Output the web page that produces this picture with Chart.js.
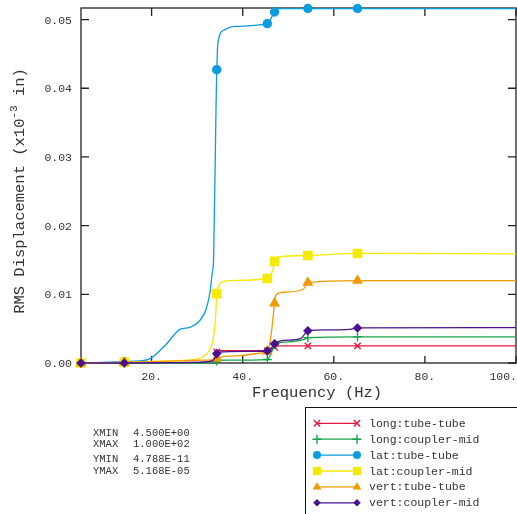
<!DOCTYPE html>
<html>
<head>
<meta charset="utf-8">
<script src="https://cdn.jsdelivr.net/npm/chart.js@4.4.1/dist/chart.umd.min.js"></script>
<style>
  html, body { margin: 0; padding: 0; background: #fff; }
</style>
</head>
<body>
<canvas id="rms" width="517" height="514"></canvas>
<script>
/** Frequencies where the response markers sit (Hz) **/
const markerFreqs = [4.5, 14, 34.3, 45.4, 47, 54.3, 65.2];

/** Axis ticks **/
const xTicks = [20, 40, 60, 80, 100];
const yTicks = [0, 0.01, 0.02, 0.03, 0.04, 0.05];
const xTickLabels = ["20.", "40.", "60.", "80.", "100."];
const yTickLabels = ["0.00", "0.01", "0.02", "0.03", "0.04", "0.05"];

/** Cumulative RMS displacement curves (x10^-3 in) **/
const longTubeFreq = [4.5, 14, 30, 33.3, 34.0, 34.3, 35.0, 45.4, 46.2, 47.0, 48.0, 54.3, 65.2, 100];
const longTubeVals = [0, 0, 0.0001, 0.0003, 0.0010, 0.0016, 0.0018, 0.0018, 0.0020, 0.0023, 0.0025, 0.0025, 0.0025, 0.0025];

const longCoupFreq = [4.5, 14, 30, 33.5, 34.3, 35.0, 45.4, 46.3, 47.0, 48.5, 51.7, 53.8, 54.3, 65.2, 100];
const longCoupVals = [0, 0, 0, 0.0001, 0.0003, 0.0004, 0.0005, 0.0015, 0.0027, 0.0030, 0.0032, 0.0035, 0.0037, 0.0038, 0.0038];

const latTubeFreq = [4.5, 14, 17.4, 19.6, 23.3, 26.2, 28.4, 30.6, 32.0, 32.9, 33.3, 33.6, 34.1, 34.3, 34.6, 36.0, 38.2, 45.4, 47.0, 48.0, 54.3, 65.2, 100];
const latTubeVals = [0, 0.0002, 0.0003, 0.0006, 0.0028, 0.0049, 0.0052, 0.0062, 0.0079, 0.0106, 0.0131, 0.0150, 0.0354, 0.0427, 0.0468, 0.0485, 0.0490, 0.0494, 0.0511, 0.0516, 0.0516, 0.0516, 0.0516];

const latCoupFreq = [4.5, 14, 20, 28, 31.3, 32.7, 33.6, 34.1, 34.3, 34.7, 35.3, 37.1, 45.4, 46.6, 47.0, 48.1, 54.3, 65.2, 100];
const latCoupVals = [0, 0.0001, 0.00025, 0.0004, 0.0009, 0.0019, 0.0038, 0.0072, 0.0101, 0.0111, 0.0117, 0.0120, 0.0123, 0.0135, 0.0148, 0.01545, 0.01566, 0.01595, 0.0159];

const vertTubeFreq = [4.5, 14, 20, 30, 33.5, 34.3, 35.5, 40, 44.5, 45.4, 46.0, 46.4, 47.0, 47.3, 48.8, 53.2, 53.9, 54.3, 65.2, 100];
const vertTubeVals = [0, 0.0001, 0.0002, 0.0004, 0.0005, 0.0007, 0.0009, 0.0011, 0.0015, 0.0017, 0.0030, 0.0050, 0.0087, 0.0099, 0.0103, 0.0107, 0.0113, 0.0117, 0.0120, 0.0120];

const vertCoupFreq = [4.5, 14, 30, 33.3, 34.0, 34.3, 35.0, 40, 45.4, 46.2, 47.0, 48.1, 52.8, 54.3, 56.1, 63.5, 65.2, 100];
const vertCoupVals = [0, 0, 0.0001, 0.0003, 0.0009, 0.00137, 0.0016, 0.0017, 0.00175, 0.0021, 0.0028, 0.0032, 0.0036, 0.0047, 0.0048, 0.0049, 0.0051, 0.00515];

/** Series names, colours and marker shapes **/
const seriesNames = ["long:tube-tube", "long:coupler-mid", "lat:tube-tube", "lat:coupler-mid", "vert:tube-tube", "vert:coupler-mid"];
const seriesColors = ["#e3173d", "#14a446", "#0b9de0", "#f5ea00", "#f29a00", "#4b1190"];
const seriesMarkers = ["crossRot", "cross", "circle", "rect", "triangle", "rectRot"];
const markerSizes = [4.5, 4.5, 4, 5.8, 5, 3.8];

const seriesFreqs = [longTubeFreq, longCoupFreq, latTubeFreq, latCoupFreq, vertTubeFreq, vertCoupFreq];
const seriesVals = [longTubeVals, longCoupVals, latTubeVals, latCoupVals, vertTubeVals, vertCoupVals];

const monoFont = "'Liberation Mono', 'DejaVu Sans Mono', monospace";
const textColor = "#333";

/** Build datasets, markers only at the listed frequencies **/
const datasets = seriesNames.map((name, i) => ({
  label: name,
  data: seriesFreqs[i].map((f, j) => ({ x: f, y: seriesVals[i][j] })),
  showLine: true,
  cubicInterpolationMode: "monotone",
  borderColor: seriesColors[i],
  backgroundColor: seriesColors[i],
  borderWidth: 1.3,
  pointStyle: seriesMarkers[i],
  pointBorderWidth: 1.4,
  pointRadius: (ctx) => (ctx.raw && markerFreqs.includes(ctx.raw.x) ? markerSizes[i] : 0),
  clip: false,
  //  later series drawn on top
  order: seriesNames.length - i,
}));

/** Draw a marker shape for the legend **/
function drawMarker(ctx, style, x, y, r, color) {
  ctx.save();
  ctx.fillStyle = color;
  ctx.strokeStyle = color;
  ctx.lineWidth = 1.4;
  ctx.beginPath();
  if (style == "circle") {
    ctx.arc(x, y, r, 0, Math.PI * 2);
    ctx.fill();
  } else if (style == "rect") {
    let s = r * Math.SQRT1_2;
    ctx.fillRect(x - s, y - s, 2 * s, 2 * s);
  } else if (style == "rectRot") {
    ctx.moveTo(x, y - r);
    ctx.lineTo(x + r, y);
    ctx.lineTo(x, y + r);
    ctx.lineTo(x - r, y);
    ctx.closePath();
    ctx.fill();
  } else if (style == "triangle") {
    ctx.moveTo(x, y - r);
    ctx.lineTo(x + r * 0.866, y + r * 0.5);
    ctx.lineTo(x - r * 0.866, y + r * 0.5);
    ctx.closePath();
    ctx.fill();
  } else if (style == "cross") {
    ctx.moveTo(x - r, y);
    ctx.lineTo(x + r, y);
    ctx.moveTo(x, y - r);
    ctx.lineTo(x, y + r);
    ctx.stroke();
  } else {
    let s = r * Math.SQRT1_2;
    ctx.moveTo(x - s, y - s);
    ctx.lineTo(x + s, y + s);
    ctx.moveTo(x + s, y - s);
    ctx.lineTo(x - s, y + s);
    ctx.stroke();
  }
  ctx.restore();
}

/** Plot frame, inward ticks on all four sides, tick labels **/
const framePlugin = {
  id: "frame",
  beforeDatasetsDraw(chart) {
    const { ctx, chartArea: a, scales } = chart;
    ctx.save();
    ctx.strokeStyle = "#222";
    ctx.lineWidth = 1.3;
    ctx.strokeRect(a.left, a.top, a.right - a.left, a.bottom - a.top);
    ctx.beginPath();
    xTicks.forEach((v) => {
      let px = scales.x.getPixelForValue(v);
      ctx.moveTo(px, a.bottom);
      ctx.lineTo(px, a.bottom - 7);
      ctx.moveTo(px, a.top);
      ctx.lineTo(px, a.top + 8);
    });
    yTicks.forEach((v) => {
      let py = scales.y.getPixelForValue(v);
      ctx.moveTo(a.left, py);
      ctx.lineTo(a.left + 8, py);
      ctx.moveTo(a.right, py);
      ctx.lineTo(a.right - 8, py);
    });
    ctx.stroke();

    //  tick labels, the last x label is kept inside the canvas
    ctx.fillStyle = textColor;
    ctx.font = "11.5px " + monoFont;
    ctx.textBaseline = "middle";
    xTicks.forEach((v, i) => {
      let px = scales.x.getPixelForValue(v);
      let half = ctx.measureText(xTickLabels[i]).width / 2;
      ctx.textAlign = "left";
      ctx.fillText(xTickLabels[i], Math.min(px - half, chart.width - 2 * half), a.bottom + 14);
    });
    ctx.textAlign = "right";
    yTicks.forEach((v, i) => {
      ctx.fillText(yTickLabels[i], a.left - 9, scales.y.getPixelForValue(v) + 1);
    });
    ctx.restore();
  },
  afterDraw(chart) {
    const { ctx } = chart;
    ctx.save();
    ctx.fillStyle = textColor;
    ctx.textBaseline = "middle";

    //  x axis title
    ctx.font = "15.5px " + monoFont;
    ctx.textAlign = "center";
    ctx.fillText("Frequency (Hz)", 317, 393);

    //  y axis title with superscript exponent
    ctx.save();
    ctx.translate(20, 191);
    ctx.rotate(-Math.PI / 2);
    let part1 = "RMS Displacement (x10";
    let sup = "-3";
    let part2 = " in)";
    ctx.font = "15.5px " + monoFont;
    let w1 = ctx.measureText(part1).width;
    let w3 = ctx.measureText(part2).width;
    ctx.font = "11px " + monoFont;
    let w2 = ctx.measureText(sup).width;
    let x0 = -(w1 + w2 + w3) / 2;
    ctx.textAlign = "left";
    ctx.font = "15.5px " + monoFont;
    ctx.fillText(part1, x0, 0);
    ctx.font = "11px " + monoFont;
    ctx.fillText(sup, x0 + w1, -6);
    ctx.font = "15.5px " + monoFont;
    ctx.fillText(part2, x0 + w1 + w2, 0);
    ctx.restore();

    //  range summary
    ctx.font = "10.5px " + monoFont;
    ctx.textAlign = "left";
    const stats = [["XMIN", "4.500E+00", 433], ["XMAX", "1.000E+02", 444.5], ["YMIN", "4.788E-11", 459.5], ["YMAX", "5.168E-05", 471]];
    stats.forEach((s) => {
      ctx.fillText(s[0], 93, s[2]);
      ctx.fillText(s[1], 133, s[2]);
    });

    //  legend box
    ctx.strokeStyle = "#111";
    ctx.lineWidth = 1;
    ctx.strokeRect(305.5, 407.5, 230, 130);
    ctx.font = "11.5px " + monoFont;
    seriesNames.forEach((name, i) => {
      let y = 423.3 + i * 15.9;
      ctx.strokeStyle = seriesColors[i];
      ctx.lineWidth = 1.3;
      ctx.beginPath();
      ctx.moveTo(317, y);
      ctx.lineTo(357, y);
      ctx.stroke();
      drawMarker(ctx, seriesMarkers[i], 317, y, markerSizes[i], seriesColors[i]);
      drawMarker(ctx, seriesMarkers[i], 357, y, markerSizes[i], seriesColors[i]);
      ctx.fillStyle = textColor;
      ctx.fillText(name, 369, y + 0.5);
    });
    ctx.restore();
  },
};

const ctx = document.getElementById("rms");

let rmsChart = new Chart(ctx, {
  type: "scatter",
  data: { datasets: datasets },
  options: {
    responsive: false,
    animation: false,
    //  no extra room for markers, the plot box is fixed
    layout: { autoPadding: false, padding: { top: 8, right: 1, left: 0, bottom: 0 } },
    plugins: { legend: { display: false }, tooltip: { enabled: false } },
    scales: {
      x: {
        type: "linear",
        min: 4.5,
        max: 100,
        afterBuildTicks: (s) => { s.ticks = xTicks.map((v) => ({ value: v })); },
        afterFit: (s) => { s.height = 151; },
        grid: { display: false, drawTicks: false },
        border: { display: false },
        ticks: { display: false },
      },
      y: {
        type: "linear",
        min: 0,
        max: 0.05168,
        afterBuildTicks: (s) => { s.ticks = yTicks.map((v) => ({ value: v })); },
        afterFit: (s) => { s.width = 81; },
        grid: { display: false, drawTicks: false },
        border: { display: false },
        ticks: { display: false },
      },
    },
  },
  plugins: [framePlugin],
});
</script>
</body>
</html>
